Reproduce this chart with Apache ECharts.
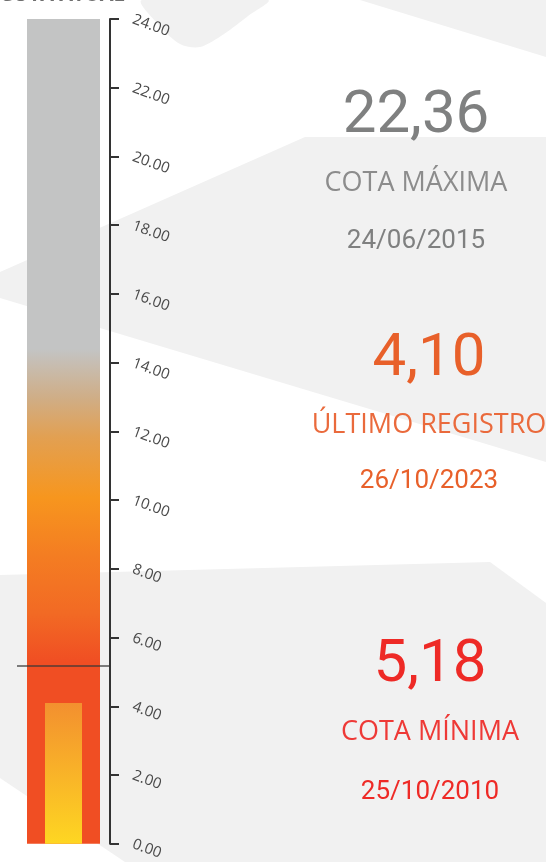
<!DOCTYPE html>
<html><head><meta charset="utf-8">
<script src="https://cdn.jsdelivr.net/npm/echarts@6/dist/echarts.min.js"></script>
<style>html,body{margin:0;padding:0;background:#fff;overflow:hidden}#c{width:546px;height:862px}</style>
</head><body><div id="c"></div>
<script>
// ---- data ----
const categories = ['Régua'];
const scaleTop = [24];          // full gauge height
const lastRecord = [4.10];      // último registro
const minLevel = 5.18;          // cota mínima
const axisMin = 0, axisMax = 24, axisStep = 2;
const statValues = [22.36, 4.10, 5.18];
const statLabels = ['COTA MÁXIMA', 'ÚLTIMO REGISTRO', 'COTA MÍNIMA'];
const statDates = ['24/06/2015', '26/10/2023', '25/10/2010'];

// ---- styles ----
const statColors = [
  {num: '#7f8080', lab: '#8c8c8c', date: '#7f8080'},
  {num: '#e8602a', lab: '#ea6a3c', date: '#e8602a'},
  {num: '#ee2a26', lab: '#ee3936', date: '#ee2a26'}
];
const statCenters = [416, 429, 430];
const statY = [[117, 183, 241], [360, 425, 481], [666, 732, 792]];

const chart = echarts.init(document.getElementById('c'), null, {renderer: 'canvas'});
const G = echarts.graphic;

const fmtComma = v => v.toFixed(2).replace('.', ',');

const graphics = [
  // background shapes
  {type: 'polygon', z: -10, silent: true, shape: {points: [[142,0],[160,26],[180,44],[200,47],[224,34],[248,16],[268,0]], smooth: 0.3}, style: {fill: '#f1f1f1'}},
  {type: 'polygon', z: -10, silent: true, shape: {points: [[360,0],[546,0],[546,57]]}, style: {fill: '#f1f1f1'}},
  {type: 'polygon', z: -10, silent: true, shape: {points: [[0,272],[305,137],[546,137],[546,462],[0,298]]}, style: {fill: '#f1f1f1'}},
  {type: 'polygon', z: -10, silent: true, shape: {points: [[0,575],[490,562],[546,603],[546,862],[125,862],[0,778]]}, style: {fill: '#f1f1f1'}},
  // cropped title at the very top
  {type: 'text', x: 0, y: 5, silent: true, style: {text: 'COTA ATUAL', fill: '#6f6f6f', font: 'bold 20px "Open Sans"', verticalAlign: 'bottom'}}
];
statValues.forEach((v, i) => {
  const cx = statCenters[i], ys = statY[i], c = statColors[i];
  graphics.push({type: 'text', x: cx, y: ys[0], silent: true, style: {text: fmtComma(v), fill: c.num, font: '60px Roboto', align: 'center', verticalAlign: 'middle'}});
  graphics.push({type: 'text', x: cx, y: ys[1], silent: true, style: {text: statLabels[i], fill: c.lab, font: '27px "Open Sans"', align: 'center', verticalAlign: 'middle'}});
  graphics.push({type: 'text', x: cx, y: ys[2], silent: true, style: {text: statDates[i], fill: c.date, font: '26px Roboto', align: 'center', verticalAlign: 'middle'}});
});

const outerGrad = new G.LinearGradient(0, 0, 0, 1, [
  {offset: 0, color: '#c3c4c4'},
  {offset: 0.40, color: '#c3c4c4'},
  {offset: 0.458, color: '#cfae88'},
  {offset: 0.507, color: '#e2a052'},
  {offset: 0.58, color: '#f7961e'},
  {offset: 0.65, color: '#f47d22'},
  {offset: 0.72, color: '#f26a24'},
  {offset: 0.78, color: '#f04e23'},
  {offset: 1, color: '#f04e23'}
]);
const innerGrad = new G.LinearGradient(0, 0, 0, 1, [
  {offset: 0, color: '#f3902f'},
  {offset: 1, color: '#fed622'}
]);

chart.setOption({
  animation: false,
  backgroundColor: '#ffffff',
  graphic: graphics,
  grid: {left: 17, top: 19, bottom: 12, right: 436, containLabel: false},
  xAxis: [
    {type: 'category', data: categories, show: false},
    {type: 'category', data: categories, show: false}
  ],
  yAxis: {
    type: 'value', position: 'right', min: axisMin, max: axisMax, interval: axisStep,
    z: 10,
    splitLine: {show: false},
    axisLine: {show: true, lineStyle: {color: '#333', width: 2}},
    axisTick: {show: true, inside: false, length: 9, lineStyle: {color: '#333', width: 2}},
    axisLabel: {rotate: -20, margin: 23, color: '#4a4a4a', fontSize: 15, fontFamily: '"Open Sans"',
      formatter: v => v.toFixed(2)}
  },
  series: [
    {type: 'bar', xAxisIndex: 0, data: scaleTop, barWidth: 73, itemStyle: {color: outerGrad}, silent: true, z: 2,
      markLine: {silent: true, symbol: 'none', label: {show: false},
        lineStyle: {color: 'rgba(55,55,55,0.85)', width: 1.5, type: 'solid'},
        data: [{yAxis: minLevel}]}},
    {type: 'bar', xAxisIndex: 1, data: lastRecord, barWidth: 37, itemStyle: {color: innerGrad}, silent: true, z: 3}
  ]
});
</script>
</body></html>
